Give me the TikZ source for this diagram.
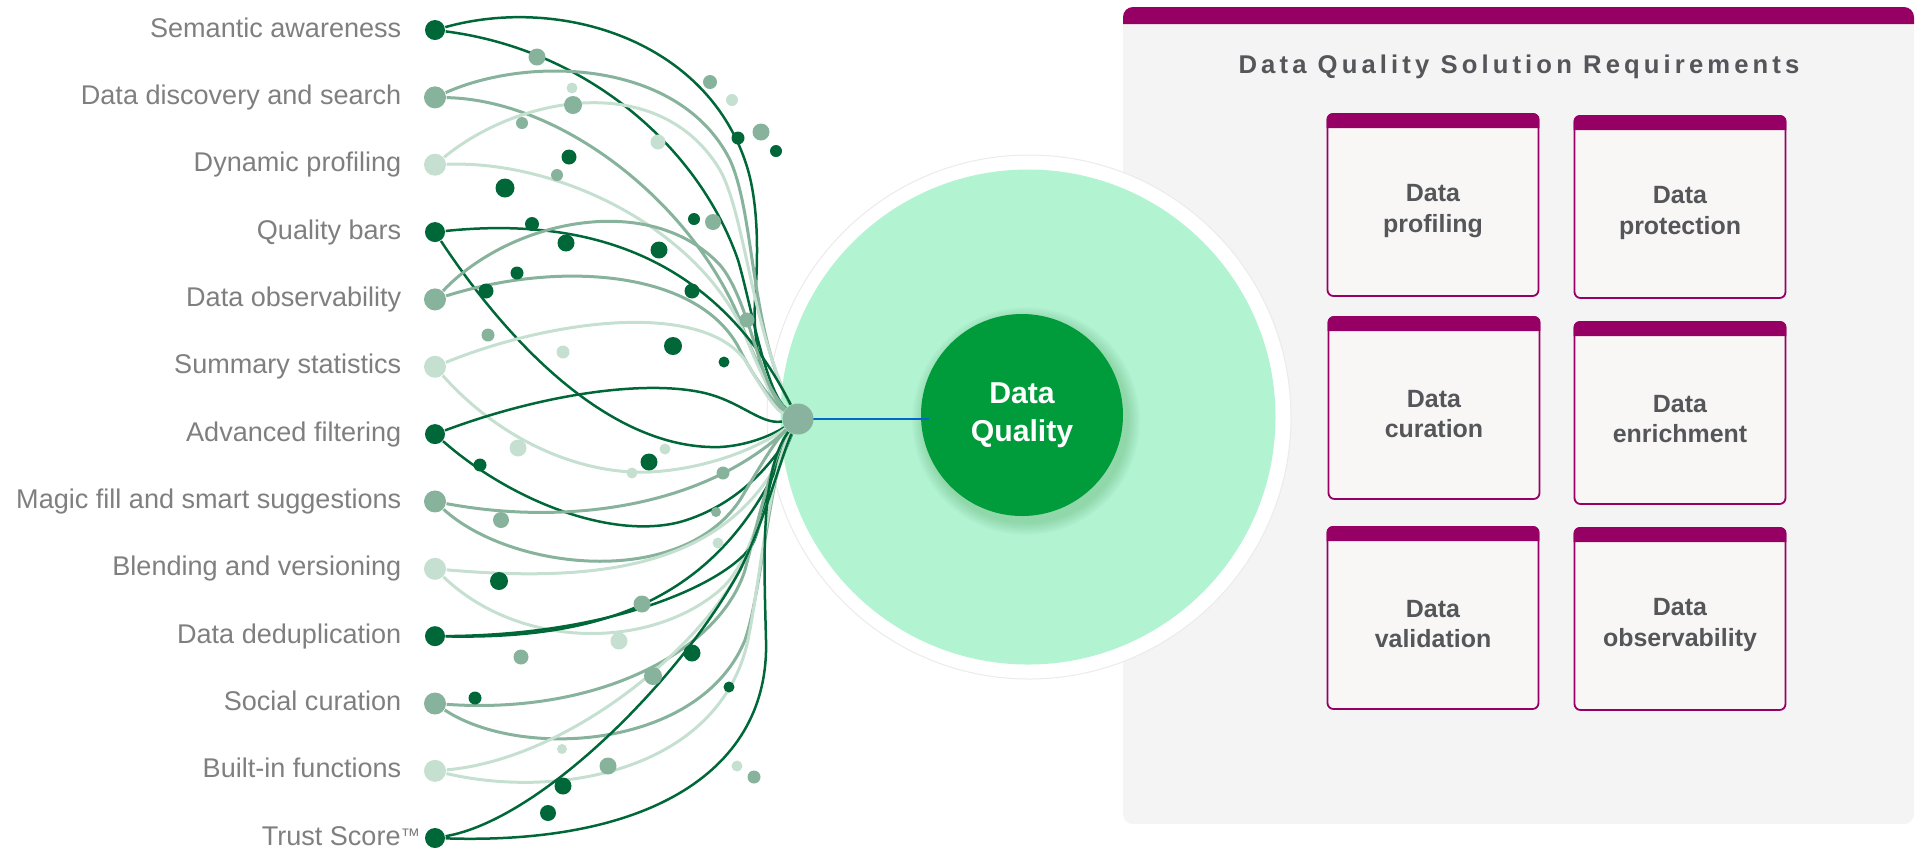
\documentclass[tikz,border=0pt]{standalone}
\usepackage{fontspec}
\setmainfont{Liberation Sans}
\usetikzlibrary{calc}
\definecolor{dkgreen}{RGB}{0,104,56}
\definecolor{medgreen}{RGB}{135,178,156}
\definecolor{ltgreen}{RGB}{197,224,208}
\definecolor{hubgreen}{RGB}{137,179,158}
\definecolor{paleteal}{RGB}{178,243,210}
\definecolor{dqgreen}{RGB}{0,155,58}
\definecolor{plum}{RGB}{150,0,100}
\definecolor{panelgray}{RGB}{244,244,244}
\definecolor{boxfill}{RGB}{248,247,246}
\definecolor{labelgray}{RGB}{127,127,127}
\definecolor{boxtext}{RGB}{85,86,90}
\definecolor{linkblue}{RGB}{0,102,204}
\tikzset{
  lbl/.style={font=\fontsize{7.7}{9}\selectfont, text=labelgray, inner sep=0pt},
  dotdk/.style={circle, fill=dkgreen, minimum size=2mm, inner sep=0pt},
  dotmd/.style={circle, fill=medgreen, minimum size=2.2mm, inner sep=0pt},
  dotlt/.style={circle, fill=ltgreen, minimum size=2.2mm, inner sep=0pt},
  lndk/.style={draw=dkgreen, line width=0.25mm},
  lnmd/.style={draw=medgreen, line width=0.3mm},
  lnlt/.style={draw=ltgreen, line width=0.3mm},
  reqbox/.style={draw=plum, line width=0.18mm, fill=boxfill, rounded corners=0.6mm,
    minimum width=21.1mm, minimum height=18.2mm},
  reqtext/.style={align=center, text=boxtext, font=\bfseries\fontsize{7.1}{8.7}\selectfont},
}
\begin{document}
\begin{tikzpicture}[x=0.1mm, y=-0.1mm]
\useasboundingbox (0,0) rectangle (1920,867);
% right panel
\fill[panelgray, rounded corners=1mm] (1123,7) rectangle (1914,824);
\fill[plum] (1123,24) [rounded corners=1mm] -- (1123,7) -- (1914,7) [sharp corners] -- (1914,24) -- cycle;
\node[text=boxtext, font=\bfseries\fontsize{7.3}{9}\selectfont\addfontfeature{LetterSpace=16}] (title) at (1519,67) {Data Quality Solution Requirements};
% circles
\fill[white] (1029,417) circle (262);
\draw[black!8, line width=0.1mm] (1029,417) circle (262);
\fill[paleteal] (1028,417) circle (247.5);
\foreach \r in {1,...,8}
  \fill[black!60!green, opacity=0.025] (1026,421) circle ({101+1.6*\r});
\node[circle, fill=dqgreen, minimum size=20.2mm, inner sep=0pt, text=white, align=center,
  font=\bfseries\fontsize{8.6}{10.7}\selectfont] (dq) at (1022,415) {Data\\Quality};
\coordinate (hc) at (798,419);
\draw[linkblue, line width=0.22mm] (hc) -- ($(dq.west |- hc)+(9,0)$);
\node[circle, fill=hubgreen, minimum size=3.1mm, inner sep=0pt] (hub) at (hc) {};
% items
\foreach \i/\t/\s in {1/Semantic awareness/dk, 2/Data discovery and search/md,
  3/Dynamic profiling/lt, 4/Quality bars/dk, 5/Data observability/md,
  6/Summary statistics/lt, 7/Advanced filtering/dk, 8/Magic fill and smart suggestions/md,
  9/Blending and versioning/lt, 10/Data deduplication/dk, 11/Social curation/md,
  12/Built-in functions/lt} {
  \node[dot\s] (d\i) at (435,{30+67.35*(\i-1)}) {};
  \node[lbl, anchor=base east] (lab\i) at (402,{37+67.35*(\i-1)}) {\t};
}
\node[dotdk] (d13) at (435,838) {};
\node[lbl, anchor=base east] (lab13) at (421,845) {Trust Score\raisebox{0.8pt}{\fontsize{5.6}{6}\selectfont ™}};
% links
\draw[lndk] (d1) .. controls (560,-5) and (710,40) .. (748,170) .. controls (759,209) and (758,260) .. (755,300) .. controls (752,360) and (770,400) .. (hub);
\draw[lndk] (d1) .. controls (590,50) and (700,150) .. (738,260) .. controls (750,300) and (765,390) .. (hub);
\draw[lnmd] (d2) .. controls (530,55) and (680,60) .. (730,160) .. controls (755,215) and (750,330) .. (hub);
\draw[lnmd] (d2) .. controls (560,100) and (690,200) .. (740,320) .. controls (752,355) and (775,400) .. (hub);
\draw[lnlt] (d3) .. controls (520,95) and (660,70) .. (720,170) .. controls (745,215) and (752,330) .. (hub);
\draw[lnlt] (d3) .. controls (560,160) and (700,230) .. (745,335) .. controls (757,365) and (775,405) .. (hub);
\draw[lndk] (d4) .. controls (600,215) and (720,265) .. (hub);
\draw[lndk] (d4) .. controls (520,360) and (620,450) .. (720,447) .. controls (755,445) and (780,430) .. (hub);
\draw[lnmd] (d5) .. controls (510,220) and (650,190) .. (720,265) .. controls (750,300) and (760,390) .. (hub);
\draw[lnmd] (d5) .. controls (560,260) and (700,270) .. (740,350) .. controls (755,380) and (775,405) .. (hub);
\draw[lnlt] (d6) .. controls (550,320) and (700,300) .. (745,360) .. controls (760,385) and (775,410) .. (hub);
\draw[lnlt] (d6) .. controls (500,440) and (580,475) .. (650,472) .. controls (720,468) and (770,440) .. (hub);
\draw[lndk] (d7) .. controls (540,395) and (640,380) .. (700,392) .. controls (740,400) and (760,425) .. (hub);
\draw[lndk] (d7) .. controls (510,500) and (610,540) .. (680,522) .. controls (740,505) and (775,460) .. (hub);
\draw[lnmd] (d8) .. controls (560,525) and (700,510) .. (hub);
\draw[lnmd] (d8) .. controls (510,570) and (680,590) .. (740,500) .. controls (755,475) and (775,440) .. (hub);
\draw[lnlt] (d9) .. controls (620,585) and (740,560) .. (hub);
\draw[lnlt] (d9) .. controls (520,650) and (650,650) .. (720,590) .. controls (760,555) and (770,460) .. (hub);
\draw[lndk] (d10) .. controls (620,640) and (730,590) .. (hub);
\draw[lndk] (d10) .. controls (620,635) and (730,580) .. (752,545) .. controls (762,529) and (775,450) .. (hub);
\draw[lnmd] (d11) .. controls (600,715) and (720,650) .. (745,570) .. controls (758,520) and (775,450) .. (hub);
\draw[lnmd] (d11) .. controls (520,760) and (700,750) .. (745,640) .. controls (762,590) and (770,470) .. (hub);
\draw[lnlt] (d12) .. controls (560,760) and (690,660) .. (740,570) .. controls (765,520) and (780,460) .. (hub);
\draw[lnlt] (d12) .. controls (560,800) and (720,770) .. (748,640) .. controls (760,580) and (770,470) .. (hub);
\draw[lndk] (d13) .. controls (540,820) and (680,680) .. (740,570) .. controls (765,520) and (780,460) .. (hub);
\draw[lndk] (d13) .. controls (650,845) and (770,770) .. (766,640) .. controls (764,560) and (760,470) .. (hub);
% loose dots
\foreach \x/\y/\r/\c in {537/57/8.5/medgreen, 572/88/5.5/ltgreen, 573/105/9/medgreen,
  522/123/6/medgreen, 658/142/7.5/ltgreen, 569/157/7.5/dkgreen, 557/175/6/medgreen,
  505/188/9.5/dkgreen, 710/82/7/medgreen, 732/100/6/ltgreen, 738/138/6.5/dkgreen,
  761/132/8.5/medgreen, 776/151/6/dkgreen, 694/219/6/dkgreen, 713/222/8/medgreen,
  532/224/7/dkgreen, 566/243/8.5/dkgreen, 659/250/8.5/dkgreen, 517/273/6.5/dkgreen,
  486/291/7.5/dkgreen, 692/291/7.5/dkgreen, 747/320/7.5/medgreen, 488/335/6.5/medgreen,
  563/352/6.5/ltgreen, 673/346/9/dkgreen, 724/362/5.5/dkgreen, 518/448/8.5/ltgreen,
  665/449/5.5/ltgreen, 649/462/8.5/dkgreen, 480/465/6.5/dkgreen, 632/473/5.5/ltgreen,
  723/473/6.5/medgreen, 501/520/8/medgreen, 716/512/5/medgreen, 718/543/5.5/ltgreen,
  499/581/9/dkgreen, 642/604/8.5/medgreen, 619/641/8.5/ltgreen, 521/657/7.5/medgreen,
  692/653/8.5/dkgreen, 653/676/9/medgreen, 729/687/5.5/dkgreen, 475/698/6.5/dkgreen,
  562/749/5/ltgreen, 608/766/8.5/medgreen, 737/766/5.5/ltgreen, 754/777/6.5/medgreen,
  563/786/8.5/dkgreen, 548/813/8/dkgreen}
  \fill[\c] (\x,\y) circle (\r);
% requirement boxes
\foreach \n/\x/\y/\t in {bA/1433/205/{Data\\profiling}, bB/1680/207/{Data\\protection},
  bC/1434/408/{Data\\curation}, bD/1680/413/{Data\\enrichment},
  bE/1433/618/{Data\\validation}, bF/1680/619/{Data\\observability}} {
  \node[reqbox] (\n) at (\x,\y) {};
  \fill[plum] ($(\n.north west)+(0,15)$) [rounded corners=0.6mm] -- (\n.north west) -- (\n.north east) [sharp corners] -- ($(\n.north east)+(0,15)$) -- cycle;
  \node[reqtext] (\n t) at ($(\n)+(0,6)$) {\t};
}
\end{tikzpicture}
\end{document}
